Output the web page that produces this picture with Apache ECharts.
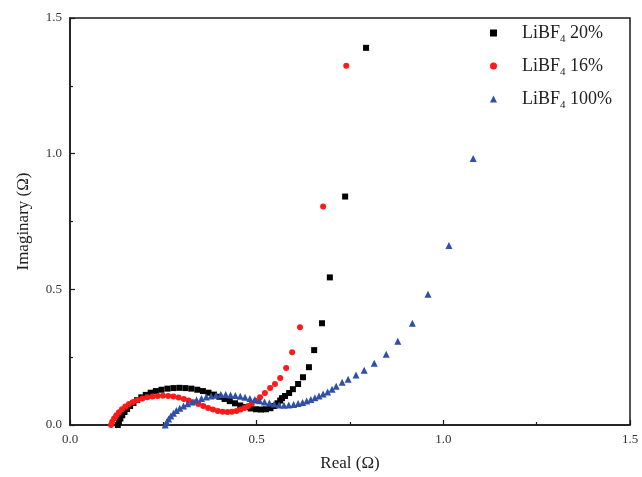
<!DOCTYPE html>
<html>
<head>
<meta charset="utf-8">
<script src="https://cdn.jsdelivr.net/npm/echarts@6/dist/echarts.min.js"></script>
<style>
  html, body { margin: 0; padding: 0; background: #fff; }
  #chart { width: 642px; height: 477px; }
</style>
</head>
<body>
<div id="chart"></div>
<script>
// Nyquist data: [Real (Ω), Imaginary (Ω)]
const seriesNames = ['LiBF4 20%', 'LiBF4 16%', 'LiBF4 100%'];
const legendSuffix = ['20%', '16%', '100%'];

const lib20 = [
  [0.128, 0.000], [0.131, 0.012], [0.135, 0.024], [0.140, 0.036], [0.146, 0.048],
  [0.153, 0.059], [0.161, 0.070], [0.170, 0.081], [0.180, 0.092], [0.191, 0.102],
  [0.203, 0.111], [0.216, 0.119], [0.230, 0.125], [0.245, 0.130], [0.261, 0.134],
  [0.277, 0.136], [0.293, 0.137], [0.309, 0.136], [0.325, 0.134], [0.341, 0.130],
  [0.356, 0.125], [0.371, 0.119], [0.386, 0.112], [0.400, 0.104], [0.414, 0.096],
  [0.428, 0.088], [0.442, 0.080], [0.456, 0.072], [0.470, 0.066], [0.484, 0.061],
  [0.498, 0.058], [0.512, 0.057], [0.525, 0.058], [0.537, 0.062], [0.547, 0.070],
  [0.556, 0.080], [0.563, 0.090], [0.568, 0.099], [0.576, 0.107], [0.587, 0.118],
  [0.597, 0.132], [0.611, 0.151], [0.624, 0.176], [0.640, 0.213], [0.654, 0.276],
  [0.675, 0.375], [0.696, 0.544], [0.737, 0.842], [0.793, 1.390]
];

const lib16 = [
  [0.110, 0.000], [0.113, 0.012], [0.118, 0.024], [0.124, 0.036], [0.131, 0.047],
  [0.139, 0.058], [0.148, 0.068], [0.158, 0.077], [0.169, 0.085], [0.181, 0.092],
  [0.194, 0.098], [0.207, 0.102], [0.221, 0.105], [0.235, 0.107], [0.249, 0.108],
  [0.263, 0.107], [0.277, 0.105], [0.291, 0.101], [0.305, 0.096], [0.318, 0.090],
  [0.331, 0.084], [0.344, 0.077], [0.357, 0.070], [0.370, 0.063], [0.383, 0.057],
  [0.396, 0.052], [0.409, 0.049], [0.422, 0.048], [0.434, 0.049], [0.446, 0.052],
  [0.457, 0.057], [0.467, 0.063], [0.477, 0.070], [0.487, 0.078], [0.498, 0.089],
  [0.509, 0.102], [0.522, 0.118], [0.536, 0.136], [0.549, 0.151], [0.563, 0.173],
  [0.579, 0.210], [0.595, 0.268], [0.616, 0.360], [0.678, 0.805], [0.740, 1.324]
];

const lib100 = [
  [0.255, 0.000], [0.259, 0.011], [0.264, 0.022], [0.270, 0.033], [0.277, 0.043],
  [0.285, 0.053], [0.294, 0.062], [0.304, 0.070], [0.315, 0.078], [0.327, 0.085],
  [0.339, 0.092], [0.352, 0.098], [0.365, 0.103], [0.378, 0.107], [0.391, 0.110],
  [0.404, 0.112], [0.417, 0.112], [0.430, 0.111], [0.443, 0.109], [0.456, 0.106],
  [0.469, 0.102], [0.482, 0.098], [0.495, 0.094], [0.508, 0.089], [0.521, 0.085],
  [0.534, 0.081], [0.547, 0.077], [0.560, 0.074], [0.573, 0.073], [0.586, 0.074],
  [0.599, 0.076], [0.611, 0.079], [0.623, 0.083], [0.634, 0.088], [0.645, 0.094],
  [0.656, 0.100], [0.667, 0.107], [0.678, 0.114], [0.690, 0.122], [0.702, 0.132],
  [0.713, 0.143], [0.729, 0.158], [0.745, 0.169], [0.766, 0.184], [0.788, 0.202],
  [0.815, 0.228], [0.847, 0.261], [0.878, 0.309], [0.917, 0.375], [0.959, 0.482],
  [1.015, 0.662], [1.080, 0.982]
];

const serif = 'Liberation Serif, Times New Roman, serif';
const ink = '#1a1a1a';

const chart = echarts.init(document.getElementById('chart'), null, { renderer: 'canvas' });

const axisCommon = {
  min: 0, max: 1.5, interval: 0.5,
  axisLine: { show: true, lineStyle: { color: ink, width: 1.5 } },
  axisTick: { show: true, inside: true, length: 5, lineStyle: { color: ink, width: 1.2 } },
  minorTick: { show: true, splitNumber: 2, length: 3, lineStyle: { color: ink, width: 1.2 } },
  splitLine: { show: false },
  axisLabel: { color: '#333', fontFamily: serif, fontSize: 13, margin: 8, formatter: v => v.toFixed(1) },
  nameTextStyle: { color: '#222', fontFamily: serif, fontSize: 17 }
};

chart.setOption({
  backgroundColor: '#fff',
  animation: false,
  grid: {
    left: 70, right: 12, top: 18, bottom: 51,
    show: true, borderColor: ink, borderWidth: 1.5, backgroundColor: 'transparent'
  },
  legend: {
    orient: 'vertical',
    left: 485, top: 19,
    itemWidth: 7, itemHeight: 7, itemGap: 12,
    data: seriesNames,
    formatter: name => '{g|}{t|LiBF}{s|4}{t| ' + legendSuffix[seriesNames.indexOf(name)] + '}',
    textStyle: {
      color: '#222', fontFamily: serif, fontSize: 18,
      rich: {
        g: { width: 20 },
        t: { fontFamily: serif, fontSize: 18, color: '#222' },
        s: { fontFamily: serif, fontSize: 11, color: '#222', padding: [13, 0, 0, 0] }
      }
    }
  },
  xAxis: Object.assign({}, axisCommon, {
    type: 'value',
    name: 'Real (Ω)', nameLocation: 'middle', nameGap: 30
  }),
  yAxis: Object.assign({}, axisCommon, {
    type: 'value',
    name: 'Imaginary (Ω)', nameLocation: 'middle', nameGap: 38, nameRotate: 90
  }),
  series: [
    {
      name: seriesNames[0], type: 'scatter', data: lib20,
      symbol: 'rect', symbolSize: 6,
      itemStyle: { color: '#000000', opacity: 1 }
    },
    {
      name: seriesNames[1], type: 'scatter', data: lib16,
      symbol: 'circle', symbolSize: 6,
      itemStyle: { color: '#ff1a1a', opacity: 1 }
    },
    {
      name: seriesNames[2], type: 'scatter', data: lib100,
      symbol: 'triangle', symbolSize: 7,
      itemStyle: { color: '#2f4fa8', opacity: 1 }
    }
  ]
});
</script>
</body>
</html>
